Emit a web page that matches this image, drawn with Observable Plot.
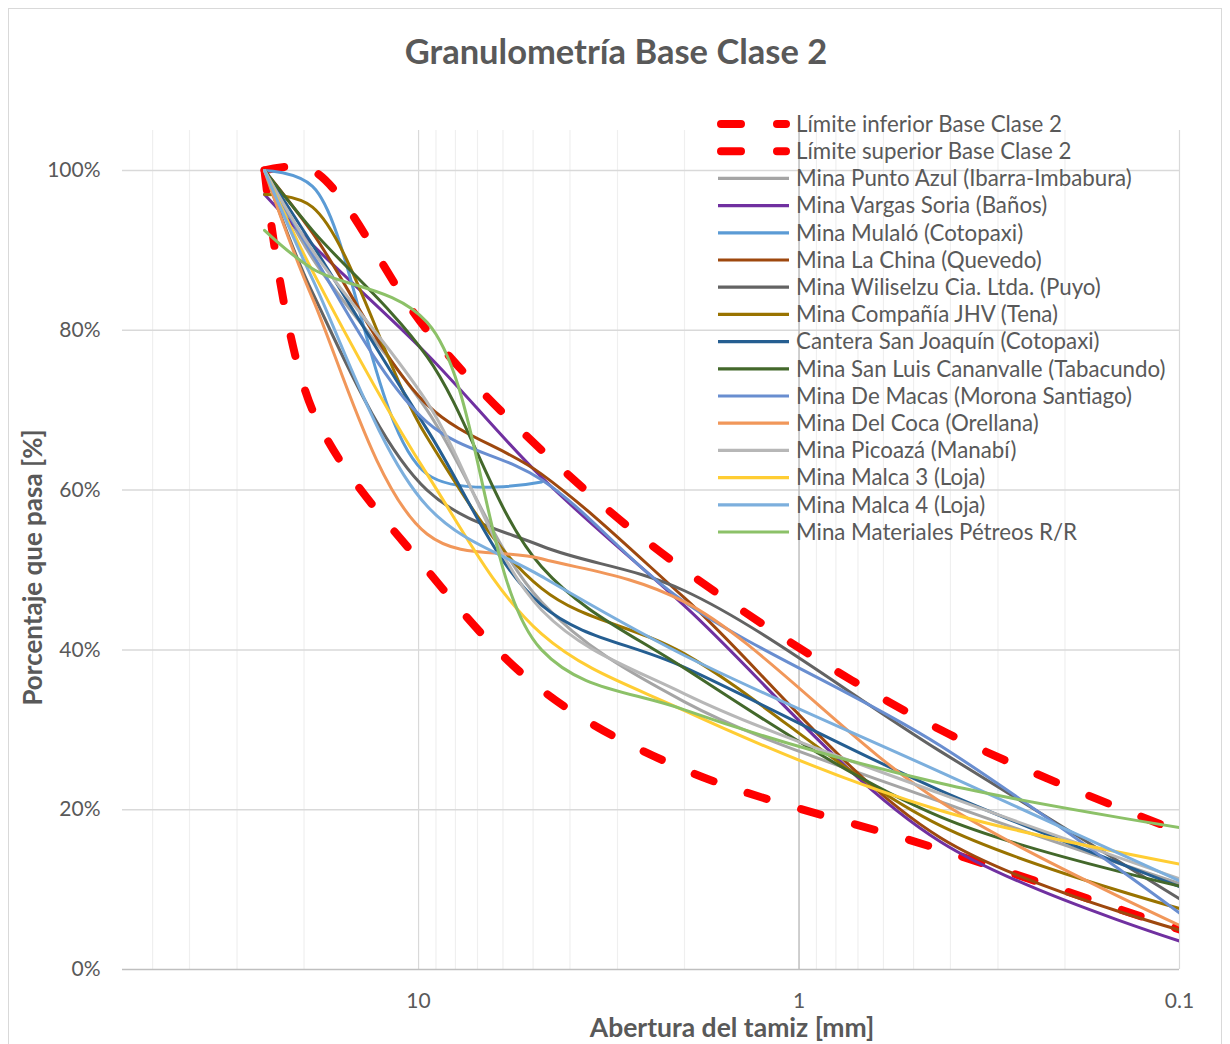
<!DOCTYPE html>
<html><head><meta charset="utf-8">
<script src="https://cdn.jsdelivr.net/npm/d3@7"></script>
<script src="https://cdn.jsdelivr.net/npm/@observablehq/plot@0.6"></script>
<style>
body{margin:0;background:#fff;}
#chart{position:relative;width:1230px;height:1044px;overflow:hidden;}
#frame{position:absolute;left:8px;top:8px;width:1214px;height:1060px;border:1px solid #d9d9d9;box-sizing:border-box;pointer-events:none;}
#chart svg{position:absolute;left:0;top:0;}
</style></head>
<body><div id="chart"><div id="frame"></div></div>
<script>
// ---- data ----
const sieves = [25.4, 19.0, 9.5, 4.75, 2.0, 0.425, 0.075]; // mm
const titleText = "Granulometría Base Clase 2";
const xLabel = "Abertura del tamiz [mm]";
const yLabel = "Porcentaje que pasa [%]";
const xTicks = [10, 1, 0.1];
const xMinorTicks = [50, 40, 30, 20, 9, 8, 7, 6, 5, 4, 3, 2, 0.9, 0.8, 0.7, 0.6, 0.5, 0.4, 0.3, 0.2];
const yTicks = [0, 20, 40, 60, 80, 100];

const limitNames = ["Límite inferior Base Clase 2", "Límite superior Base Clase 2"];
const lowerLimit = [100, 70, 50, 35, 25, 15, 3];
const upperLimit = [100, 100, 80, 65, 50, 30, 15];

const seriesNames = [
  "Mina Punto Azul (Ibarra-Imbabura)",
  "Mina Vargas Soria (Baños)",
  "Mina Mulaló (Cotopaxi)",
  "Mina La China (Quevedo)",
  "Mina Wiliselzu Cia. Ltda. (Puyo)",
  "Mina Compañía JHV (Tena)",
  "Cantera San Joaquín (Cotopaxi)",
  "Mina San Luis Cananvalle (Tabacundo)",
  "Mina De Macas (Morona Santiago)",
  "Mina Del Coca (Orellana)",
  "Mina Picoazá (Manabí)",
  "Mina Malca 3 (Loja)",
  "Mina Malca 4 (Loja)",
  "Mina Materiales Pétreos R/R"
];
const seriesColors = ["#A5A5A5", "#7030A0", "#5B9BD5", "#9E480E", "#636363", "#997300", "#255E91",
  "#43682B", "#698ED0", "#F1975A", "#B7B7B7", "#FFCD33", "#7CAFDD", "#8CC168"];

const puntoAzul     = [100, 89.0, 70.0, 46.0, 33.5, 21.0, 8.8];
const vargasSoria   = [97.0, 90.7, 77.0, 61.6, 45.5, 16.0, 1.7];
const mulalo        = [100, 98.0, 62.0, 61.0, null, null, null];
const laChina       = [100, 92.2, 70.7, 62.0, 46.5, 16.5, 3.3];
const wiliselzu     = [100, 84.7, 60.0, 53.0, 47.4, 27.3, 5.2];
const jhv           = [97.0, 95.4, 66.6, 47.7, 39.5, 18.0, 6.0];
const sanJoaquin    = [100, 90.7, 67.6, 45.6, 37.8, 22.4, 8.1];
const sanLuis       = [100, 92.5, 76.7, 50.4, 37.7, 19.1, 9.1];
const deMacas       = [100, 89.5, 68.5, 61.3, 46.0, 28.0, 2.7];
const delCoca       = [100, 84.0, 54.5, 51.4, 46.0, 21.0, 2.8];
const picoaza       = [100, 90.0, 71.0, 45.0, 34.5, 22.0, 9.3];
const malca3        = [100, 87.4, 62.0, 42.0, 32.4, 19.9, 12.1];
const malca4        = [100, 86.4, 58.0, 49.2, 39.3, 24.7, 8.4];
const materiales    = [92.5, 87.7, 81.0, 40.0, 32.5, 23.3, 16.8];

const seriesValues = [puntoAzul, vargasSoria, mulalo, laChina, wiliselzu, jhv, sanJoaquin,
  sanLuis, deMacas, delCoca, picoaza, malca3, malca4, materiales];

// ---- build ----
const toRows = (name, vals) => sieves.map((s, i) => ({name, size: s, pct: vals[i]})).filter(d => d.pct != null);
const FONT = "Lato, 'Open Sans', sans-serif";
const TXT = "#595959";

const legendEntries = [
  ...limitNames.map(n => ({name: n, color: "#FF0000", dashed: true})),
  ...seriesNames.map((n, i) => ({name: n, color: seriesColors[i], dashed: false}))
];

function legendMark() {
  return () => {
    const g = d3.create("svg:g");
    const x0 = 717, y0 = 124, step = 27.2;
    legendEntries.forEach((e, i) => {
      const y = y0 + i * step;
      if (e.dashed) {
        g.append("line").attr("x1", x0 + 4).attr("x2", 786).attr("y1", y).attr("y2", y)
          .attr("stroke", e.color).attr("stroke-width", 8).attr("stroke-linecap", "round")
          .attr("stroke-dasharray", "20,36");
      } else {
        g.append("line").attr("x1", x0 + 1).attr("x2", 789).attr("y1", y).attr("y2", y)
          .attr("stroke", e.color).attr("stroke-width", 3.2);
      }
      g.append("text").attr("x", 796).attr("y", y).attr("dy", "0.35em")
        .attr("text-anchor", "start")
        .attr("fill", TXT).attr("font-size", 22.3).attr("font-family", FONT).text(e.name);
    });
    return g.node();
  };
}

const marks = [
  Plot.ruleX(xMinorTicks, {stroke: "#EFEFEF", strokeWidth: 1.2}),
  Plot.ruleX([10, 0.1], {stroke: "#D9D9D9", strokeWidth: 1.2}),
  Plot.ruleY(yTicks.filter(d => d > 0), {stroke: "#D9D9D9", strokeWidth: 1.5}),
  Plot.ruleX([1], {stroke: "#BFBFBF", strokeWidth: 1.5}),
  Plot.ruleY([0], {stroke: "#BFBFBF", strokeWidth: 1.5}),
  Plot.line(toRows(limitNames[0], lowerLimit), {x: "size", y: "pct", stroke: "#FF0000", strokeWidth: 8,
    strokeDasharray: "20,36", strokeLinecap: "round", curve: "catmull-rom", clip: true}),
  Plot.line(toRows(limitNames[1], upperLimit), {x: "size", y: "pct", stroke: "#FF0000", strokeWidth: 8,
    strokeDasharray: "20,36", strokeLinecap: "round", curve: "catmull-rom", clip: true}),
  ...seriesValues.map((vals, i) => Plot.line(toRows(seriesNames[i], vals), {x: "size", y: "pct",
    stroke: seriesColors[i], strokeWidth: 3, curve: "catmull-rom", clip: true})),
  Plot.text([titleText], {frameAnchor: "top", lineAnchor: "middle", dx: -35, dy: -78, fontSize: 34.5, fontWeight: "bold", fill: TXT}),
  Plot.text([xLabel], {frameAnchor: "bottom", lineAnchor: "middle", dx: 81, dy: 59, fontSize: 26.5, fontWeight: "bold", fill: TXT}),
  Plot.text([yLabel], {frameAnchor: "left", textAnchor: "middle", lineAnchor: "middle", dx: -89, dy: 17.5, rotate: -90, fontSize: 26, fontWeight: "bold", fill: TXT}),
  legendMark()
];

const chart = Plot.plot({
  width: 1230,
  height: 1044,
  marginLeft: 122,
  marginRight: 51,
  marginTop: 130,
  marginBottom: 75,
  style: {fontFamily: FONT, fontSize: "21px", color: TXT, background: "transparent", overflow: "visible"},
  x: {type: "log", domain: [60, 0.1], ticks: xTicks, tickFormat: d => String(d), tickSize: 0, tickPadding: 24, label: null},
  y: {domain: [0, 105], ticks: yTicks, tickFormat: d => d + "%", tickSize: 0, tickPadding: 22, label: null},
  marks
});
document.getElementById("chart").appendChild(chart);
</script>
</body></html>
